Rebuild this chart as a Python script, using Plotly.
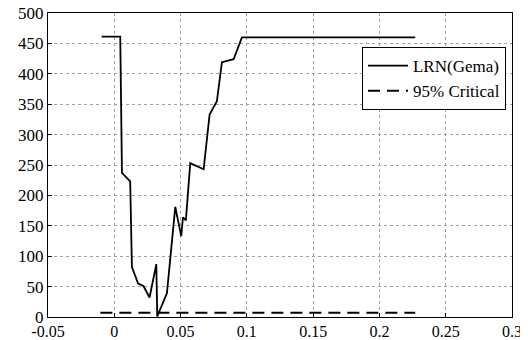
import plotly.graph_objects as go

# LRN(Gema) statistic series
lrn_x = [-0.0095, 0.0045, 0.0058, 0.012, 0.0133, 0.018, 0.022, 0.0266, 0.0317, 0.0324,
         0.0397, 0.046, 0.0505, 0.0518, 0.054, 0.0573, 0.0674, 0.0719, 0.0774, 0.0812,
         0.09, 0.0963, 0.227]
lrn_y = [461, 461, 237, 223, 82, 55, 51, 32, 87, 1,
         39, 181, 133, 164, 159, 253, 243, 333, 355, 419,
         424, 460, 460]

# 95% critical value
crit_x = [-0.0105, 0.227]
crit_y = [7, 7]

x_tickvals = [-0.05, 0, 0.05, 0.1, 0.15, 0.2, 0.25, 0.3]
x_ticktext = ["-0.05", "0", "0.05", "0.1", "0.15", "0.2", "0.25", "0.3"]
y_tickvals = [0, 50, 100, 150, 200, 250, 300, 350, 400, 450, 500]
y_ticktext = [str(v) for v in y_tickvals]

FONT = "Liberation Serif, Times New Roman, serif"

fig = go.Figure()
fig.add_trace(go.Scatter(x=lrn_x, y=lrn_y, mode="lines", name="LRN(Gema)",
                         line=dict(color="black", width=1.8)))
fig.add_trace(go.Scatter(x=crit_x, y=crit_y, mode="lines", name="95% Critical",
                         line=dict(color="black", width=2, dash="12px,7px")))

axis_common = dict(showline=True, linecolor="black", linewidth=1, mirror=True,
                   ticks="inside", ticklen=4, tickcolor="black", automargin=False,
                   ticklabeloverflow="allow",
                   showgrid=True, gridcolor="#a0a0a0", gridwidth=1, griddash="dot",
                   zeroline=False)

fig.update_xaxes(range=[-0.05, 0.3], tickvals=x_tickvals, ticktext=x_ticktext,
                 tickfont=dict(family=FONT, size=16, color="black"), **axis_common)
fig.update_yaxes(range=[0, 500], tickvals=y_tickvals, ticktext=y_ticktext,
                 tickfont=dict(family=FONT, size=17, color="black"), **axis_common)

# page body has an 8px margin; figure is sized so it ends at the window edge
fig.update_layout(
    width=520, height=332,
    margin=dict(l=40, r=16, t=5, b=23, autoexpand=False),
    paper_bgcolor="white", plot_bgcolor="white",
    font=dict(family=FONT, color="black"),
    legend=dict(x=0.987, y=0.888, xanchor="right", yanchor="top",
                bgcolor="white", bordercolor="black", borderwidth=1,
                font=dict(family=FONT, size=17, color="black"),
                itemwidth=40, tracegroupgap=0),
    showlegend=True,
)

fig.write_html("out.html")
